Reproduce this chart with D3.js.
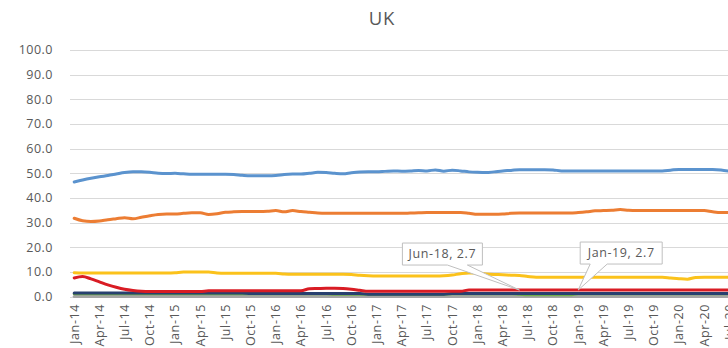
<!DOCTYPE html>
<html>
<head>
<meta charset="utf-8">
<script src="https://cdn.jsdelivr.net/npm/d3@7"></script>
<style>
  html, body { margin: 0; padding: 0; background: #fff; overflow: hidden; }
  svg { display: block; font-family: "Open Sans", sans-serif; }
</style>
</head>
<body>
<svg id="chart" width="728" height="348"></svg>
<script>
// Monthly categories
const months = [
  "Jan-14","Feb-14","Mar-14","Apr-14","May-14","Jun-14","Jul-14","Aug-14","Sep-14","Oct-14","Nov-14","Dec-14",
  "Jan-15","Feb-15","Mar-15","Apr-15","May-15","Jun-15","Jul-15","Aug-15","Sep-15","Oct-15","Nov-15","Dec-15",
  "Jan-16","Feb-16","Mar-16","Apr-16","May-16","Jun-16","Jul-16","Aug-16","Sep-16","Oct-16","Nov-16","Dec-16",
  "Jan-17","Feb-17","Mar-17","Apr-17","May-17","Jun-17","Jul-17","Aug-17","Sep-17","Oct-17","Nov-17","Dec-17",
  "Jan-18","Feb-18","Mar-18","Apr-18","May-18","Jun-18","Jul-18","Aug-18","Sep-18","Oct-18","Nov-18","Dec-18",
  "Jan-19","Feb-19","Mar-19","Apr-19","May-19","Jun-19","Jul-19","Aug-19","Sep-19","Oct-19","Nov-19","Dec-19",
  "Jan-20","Feb-20","Mar-20","Apr-20","May-20","Jun-20","Jul-20"
];

// Axis labels
const xTickLabels = ["Jan-14","Apr-14","Jul-14","Oct-14","Jan-15","Apr-15","Jul-15","Oct-15",
  "Jan-16","Apr-16","Jul-16","Oct-16","Jan-17","Apr-17","Jul-17","Oct-17",
  "Jan-18","Apr-18","Jul-18","Oct-18","Jan-19","Apr-19","Jul-19","Oct-19",
  "Jan-20","Apr-20","Jul-20"];
const yTicks = [0, 10, 20, 30, 40, 50, 60, 70, 80, 90, 100];

// Series values (percent)
const seriesBlue = [
  46.5,47.3,48.0,48.6,49.1,49.7,50.3,50.6,50.6,50.4,
  50.0,49.9,50.0,49.8,49.6,49.6,49.6,49.6,49.6,49.5,
  49.2,49.0,49.0,49.0,49.1,49.5,49.7,49.7,50.0,50.4,
  50.3,50.0,49.8,50.2,50.5,50.6,50.6,50.8,51.0,50.9,
  51.0,51.2,51.0,51.4,50.9,51.3,51.0,50.6,50.4,50.3,
  50.6,51.0,51.2,51.5,51.5,51.5,51.5,51.4,51.0,51.0,
  51.0,51.0,51.0,51.0,51.0,51.0,51.0,51.0,51.0,51.0,
  51.0,51.3,51.6,51.6,51.6,51.6,51.6,51.4,50.8
];
const seriesOrange = [
  31.8,30.8,30.5,30.7,31.2,31.6,32.0,31.6,32.2,32.8,
  33.3,33.5,33.5,33.8,34.0,34.0,33.3,33.6,34.2,34.4,
  34.5,34.5,34.5,34.6,34.9,34.4,34.9,34.5,34.2,33.9,
  33.8,33.8,33.8,33.8,33.8,33.8,33.8,33.8,33.8,33.8,
  33.9,34.0,34.1,34.1,34.1,34.1,34.1,33.8,33.4,33.4,
  33.4,33.5,33.8,33.9,33.9,33.9,33.9,33.9,33.9,33.9,
  34.1,34.4,34.8,34.9,35.0,35.3,35.0,34.9,34.9,34.9,
  34.9,34.9,34.9,34.9,34.9,34.9,34.4,34.1,34.1
];
const seriesGray = [
  0.1,0.1,0.1,0.1,0.1,0.1,0.1,0.1,0.1,0.1,
  0.1,0.1,0.1,0.1,0.1,0.1,0.1,0.1,0.1,0.1,
  0.1,0.1,0.1,0.1,0.1,0.1,0.1,0.1,0.1,0.1,
  0.1,0.1,0.1,0.1,0.1,0.1,0.1,0.1,0.1,0.1,
  0.1,0.1,0.1,0.1,0.1,0.1,0.1,0.1,0.1,0.1,
  0.1,0.1,0.1,0.1,0.1,0.1,0.1,0.1,0.1,0.1,
  0.1,0.1,0.1,0.1,0.1,0.1,0.1,0.1,0.1,0.1,
  0.1,0.1,0.1,0.1,0.1,0.1,0.1,0.1,0.1
];
const seriesYellow = [
  9.7,9.6,9.6,9.6,9.6,9.6,9.6,9.6,9.6,9.6,
  9.6,9.6,9.7,10.0,10.0,10.0,10.0,9.6,9.5,9.5,
  9.5,9.5,9.5,9.5,9.5,9.2,9.1,9.1,9.1,9.1,
  9.1,9.1,9.1,9.0,8.7,8.5,8.4,8.4,8.4,8.4,
  8.4,8.4,8.4,8.4,8.5,8.8,9.3,9.6,9.6,9.2,
  9.0,8.9,8.7,8.6,8.2,7.9,7.9,7.9,7.9,7.9,
  7.9,7.9,7.9,7.9,7.9,7.9,7.9,7.9,7.9,7.9,
  7.9,7.6,7.3,7.1,7.8,7.9,7.9,7.9,7.9
];
const seriesGreen = [
  1.2,1.2,1.2,1.2,1.2,1.2,1.2,1.2,1.2,1.2,
  1.2,1.2,1.2,1.2,1.2,1.2,1.2,1.2,1.2,1.2,
  1.2,1.2,1.2,1.2,1.2,1.2,1.2,1.2,1.2,1.2,
  1.2,1.0,1.0,1.0,1.0,0.9,0.9,0.9,0.9,0.9,
  0.9,0.9,0.9,0.9,0.9,1.2,1.2,1.2,1.2,1.2,
  1.2,1.2,1.2,1.0,0.8,0.8,0.8,0.8,0.8,0.8,
  1.2,1.2,1.2,1.2,1.2,1.2,1.2,1.2,1.2,1.2,
  1.2,1.2,1.2,1.2,1.2,1.2,1.2,1.2,1.2
];
const seriesNavy = [
  1.5,1.5,1.5,1.5,1.5,1.5,1.5,1.5,1.5,1.5,
  1.5,1.5,1.5,1.5,1.5,1.5,1.5,1.5,1.5,1.5,
  1.5,1.3,1.3,1.3,1.3,1.3,1.3,1.3,1.3,1.3,
  1.3,1.3,1.3,1.3,1.3,1.0,1.0,1.0,1.0,1.0,
  1.0,1.0,1.0,1.0,1.0,1.3,1.3,1.3,1.3,1.3,
  1.3,1.3,1.3,1.3,1.3,1.3,1.3,1.3,1.3,1.3,
  1.3,1.3,1.3,1.3,1.3,1.3,1.3,1.3,1.3,1.3,
  1.3,1.3,1.3,1.3,1.3,1.3,1.3,1.3,1.3
];
const seriesRed = [
  7.6,8.2,7.2,6.0,4.8,3.8,3.0,2.5,2.2,2.1,
  2.1,2.1,2.1,2.1,2.1,2.1,2.4,2.4,2.4,2.4,
  2.4,2.4,2.4,2.4,2.4,2.4,2.4,2.4,3.2,3.3,
  3.4,3.4,3.3,3.0,2.6,2.2,2.2,2.2,2.2,2.2,
  2.2,2.2,2.2,2.2,2.2,2.2,2.2,2.7,2.7,2.7,
  2.7,2.7,2.7,2.7,2.7,2.7,2.7,2.7,2.7,2.7,
  2.7,2.7,2.7,2.7,2.7,2.7,2.7,2.7,2.7,2.7,
  2.7,2.7,2.7,2.7,2.7,2.7,2.7,2.7,2.7
];

// Labelled points on the red series
const calloutMonths = ["Jun-18", "Jan-19"];

// Drawing order and styling
const series = [
  { values: seriesBlue,   color: "#5b93ce", width: 3 },
  { values: seriesOrange, color: "#ec7d33", width: 3 },
  { values: seriesYellow, color: "#fbc21b", width: 3 },
  { values: seriesGray,   color: "#a5a5a5", width: 3 },
  { values: seriesGreen,  color: "#70ad47", width: 3 },
  { values: seriesNavy,   color: "#27406f", width: 3 },
  { values: seriesRed,    color: "#d91c24", width: 3 }
];

const W = 728, H = 348;
const plotLeft = 70, plotRight = 728;
const svg = d3.select("#chart");

const x = d3.scalePoint()
  .domain(months)
  .range([74.2, 74.2 + (months.length - 1) * 8.4]);
const y = d3.scaleLinear().domain([0, 100]).range([296.7, 50]);

// Title
svg.append("text")
  .attr("x", 382).attr("y", 25)
  .attr("text-anchor", "middle")
  .attr("fill", "#595959")
  .style("font-size", "18.5px")
  .style("letter-spacing", "0.8px")
  .text("UK");

// Horizontal gridlines
svg.append("g")
  .selectAll("line")
  .data(yTicks)
  .join("line")
  .attr("x1", plotLeft).attr("x2", plotRight)
  .attr("y1", d => Math.round(y(d)) + 0.5)
  .attr("y2", d => Math.round(y(d)) + 0.5)
  .attr("stroke", "#d9d9d9")
  .attr("stroke-width", 1);

// Value axis labels
svg.append("g")
  .selectAll("text")
  .data(yTicks)
  .join("text")
  .attr("x", 53)
  .attr("y", d => y(d))
  .attr("dy", "0.35em")
  .attr("text-anchor", "end")
  .attr("fill", "#595959")
  .style("font-size", "12.5px")
  .style("letter-spacing", "0.5px")
  .text(d3.format(".1f"));

// Category axis labels, rotated
svg.append("g")
  .selectAll("text")
  .data(xTickLabels)
  .join("text")
  .attr("transform", d => `translate(${x(d)},304) rotate(-90)`)
  .attr("dy", "0.35em")
  .attr("text-anchor", "end")
  .attr("fill", "#595959")
  .style("font-size", "12.5px")
  .style("letter-spacing", "0.6px")
  .text(d => d);

// Series lines
const line = d3.line()
  .x((d, i) => x(months[i]))
  .y(d => y(d))
  .curve(d3.curveMonotoneX);

svg.append("g")
  .selectAll("path")
  .data(series)
  .join("path")
  .attr("d", s => line(s.values))
  .attr("fill", "none")
  .attr("stroke", s => s.color)
  .attr("stroke-width", s => s.width)
  .attr("stroke-linejoin", "round")
  .attr("stroke-linecap", "round");

// Wedge callouts for the labelled red points
const calloutStyle = {
  "Jun-18": { dx: -77, dy: -36, w: 80, h: 22, base: [45, 65] },
  "Jan-19": { dx: 43,  dy: -37, w: 82, h: 22, base: [10, 27] }
};

const callouts = svg.append("g");
calloutMonths.forEach(m => {
  const i = months.indexOf(m);
  const v = seriesRed[i];
  const px = x(m), py = y(v);
  const st = calloutStyle[m];
  const cx = px + st.dx, cy = py + st.dy;
  const L = cx - st.w / 2, R = cx + st.w / 2, T = cy - st.h / 2, B = cy + st.h / 2;
  const p = d3.path();
  p.moveTo(L, T);
  p.lineTo(R, T);
  p.lineTo(R, B);
  p.lineTo(L + st.base[1], B);
  p.lineTo(px, py);
  p.lineTo(L + st.base[0], B);
  p.lineTo(L, B);
  p.closePath();
  callouts.append("path")
    .attr("d", p.toString())
    .attr("fill", "#ffffff")
    .attr("stroke", "#bfbfbf")
    .attr("stroke-width", 1);
  callouts.append("text")
    .attr("x", cx).attr("y", cy)
    .attr("dy", "0.35em")
    .attr("text-anchor", "middle")
    .attr("fill", "#595959")
    .style("font-size", "12.5px")
    .style("letter-spacing", "0.6px")
    .text(`${m}, ${v}`);
});
</script>
</body>
</html>
